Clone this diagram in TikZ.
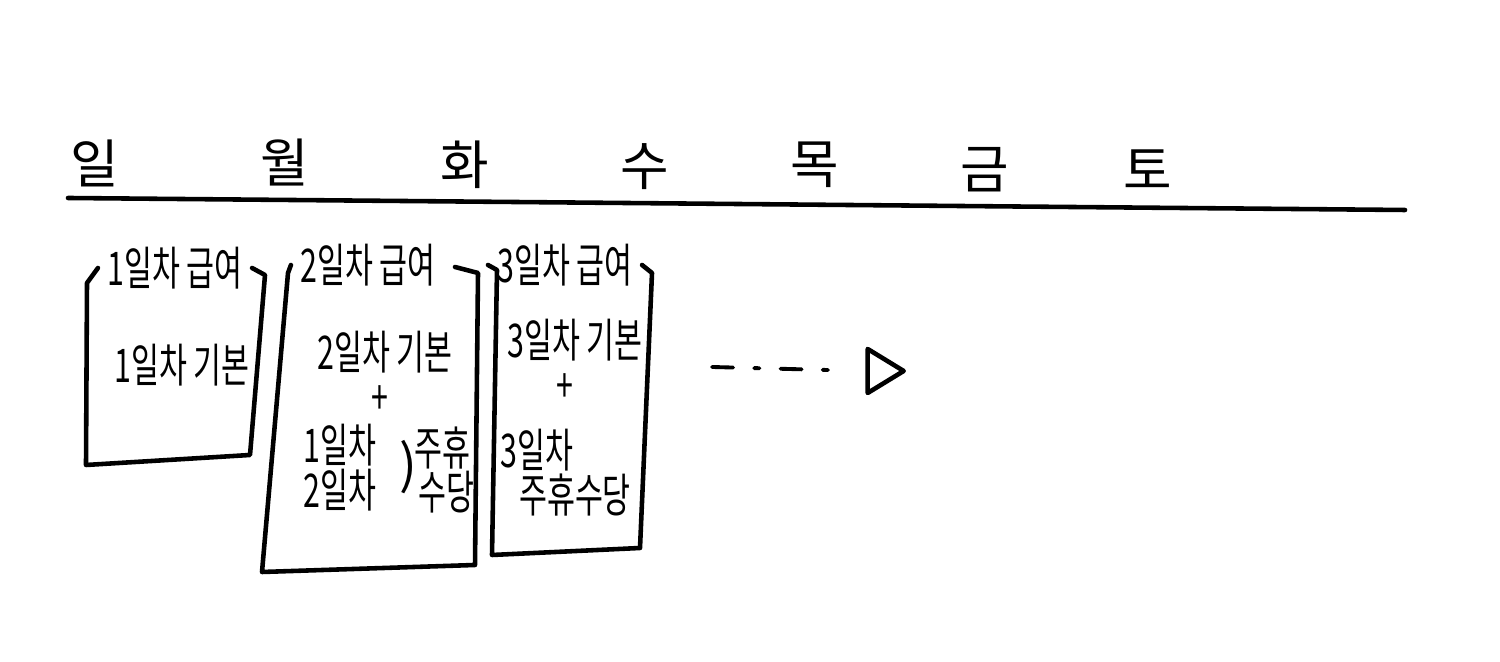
\documentclass[tikz,border=0pt]{standalone}
\usepackage{fontspec}
\newfontfamily\kr{Noto Sans CJK KR}
\usetikzlibrary{shapes.geometric}
\newcommand{\nt}[1]{\scalebox{0.72}[1.1]{#1}}
\begin{document}
\begin{tikzpicture}[x=0.01cm,y=-0.01cm, line width=1.3pt, line cap=round, line join=round,
  day/.style={font=\kr\fontsize{15}{18}\selectfont, inner sep=0pt},
  txt/.style={font=\kr\fontsize{12}{14}\selectfont, inner sep=0pt},
  boxline/.style={line width=1.3pt},
  tiptri/.style={draw, isosceles triangle, isosceles triangle stretches, minimum height=0.36cm, minimum width=0.44cm, inner sep=0pt, line width=1.3pt},
  flow/.style={line width=1.1pt, dash pattern=on 6pt off 6pt on 1.5pt off 6pt, shorten >=0.2cm}]
\useasboundingbox (0,0) rectangle (1500,662);

% day header
\node[day] (d1) at (95,163) {일};
\node[day] (d2) at (285,163) {월};
\node[day] (d3) at (465,165) {화};
\node[day] (d4) at (645,167) {수};
\node[day] (d5) at (815,165) {목};
\node[day] (d6) at (985,170) {금};
\node[day] (d7) at (1148,170) {토};
\coordinate (l1) at (68,198);
\coordinate (l2) at (1405,210);
\draw (l1) -- (l2);

% box 1
\node[txt] (t1) at (175,268) {\nt{1일차 급여}};
\node[txt] (b1) at (182,365) {\nt{1일차 기본}};
\draw[boxline] ([xshift=-2]t1.west) -- (87,283) -- (86,465) -- (250,455) -- (265,275) -- ([xshift=2]t1.east);

% box 2
\node[txt] (t2) at (368,265) {\nt{2일차 급여}};
\node[txt] (b2) at (385,352) {\nt{2일차 기본}};
\node[txt] (p2) at (380,400) {\nt{+}};
\node[txt] (c21) at (340,445) {\nt{1일차}};
\node[txt] (c22) at (340,490) {\nt{2일차}};
\node[txt, font=\kr\fontsize{15}{18}\selectfont] (br) at (408,467) {)};
\node[txt] (w2a) at (442,448) {\nt{주휴}};
\node[txt] (w2b) at (446,492) {\nt{수당}};
\draw[boxline] ([xshift=-2]t2.west) -- (288,273) -- (262,572) -- (475,565) -- (478,273) -- (455,267);

% box 3
\node[txt] (t3) at (565,265) {\nt{3일차 급여}};
\node[txt] (b3) at (575,340) {\nt{3일차 기본}};
\node[txt] (p3) at (565,388) {\nt{+}};
\node[txt] (c3) at (537,450) {\nt{3일차}};
\node[txt] (w3) at (575,495) {\nt{주휴수당}};
\draw[boxline] ([xshift=-2]t3.west) -- (497,270) -- (492,555) -- (640,548) -- (652,273) -- ([xshift=2]t3.east);

% continuation arrow
\coordinate (a1) at (712,367);
\node[tiptri] (tip) at (880,371) {};
\draw[flow] (a1) -- (tip.west);
\end{tikzpicture}
\end{document}
